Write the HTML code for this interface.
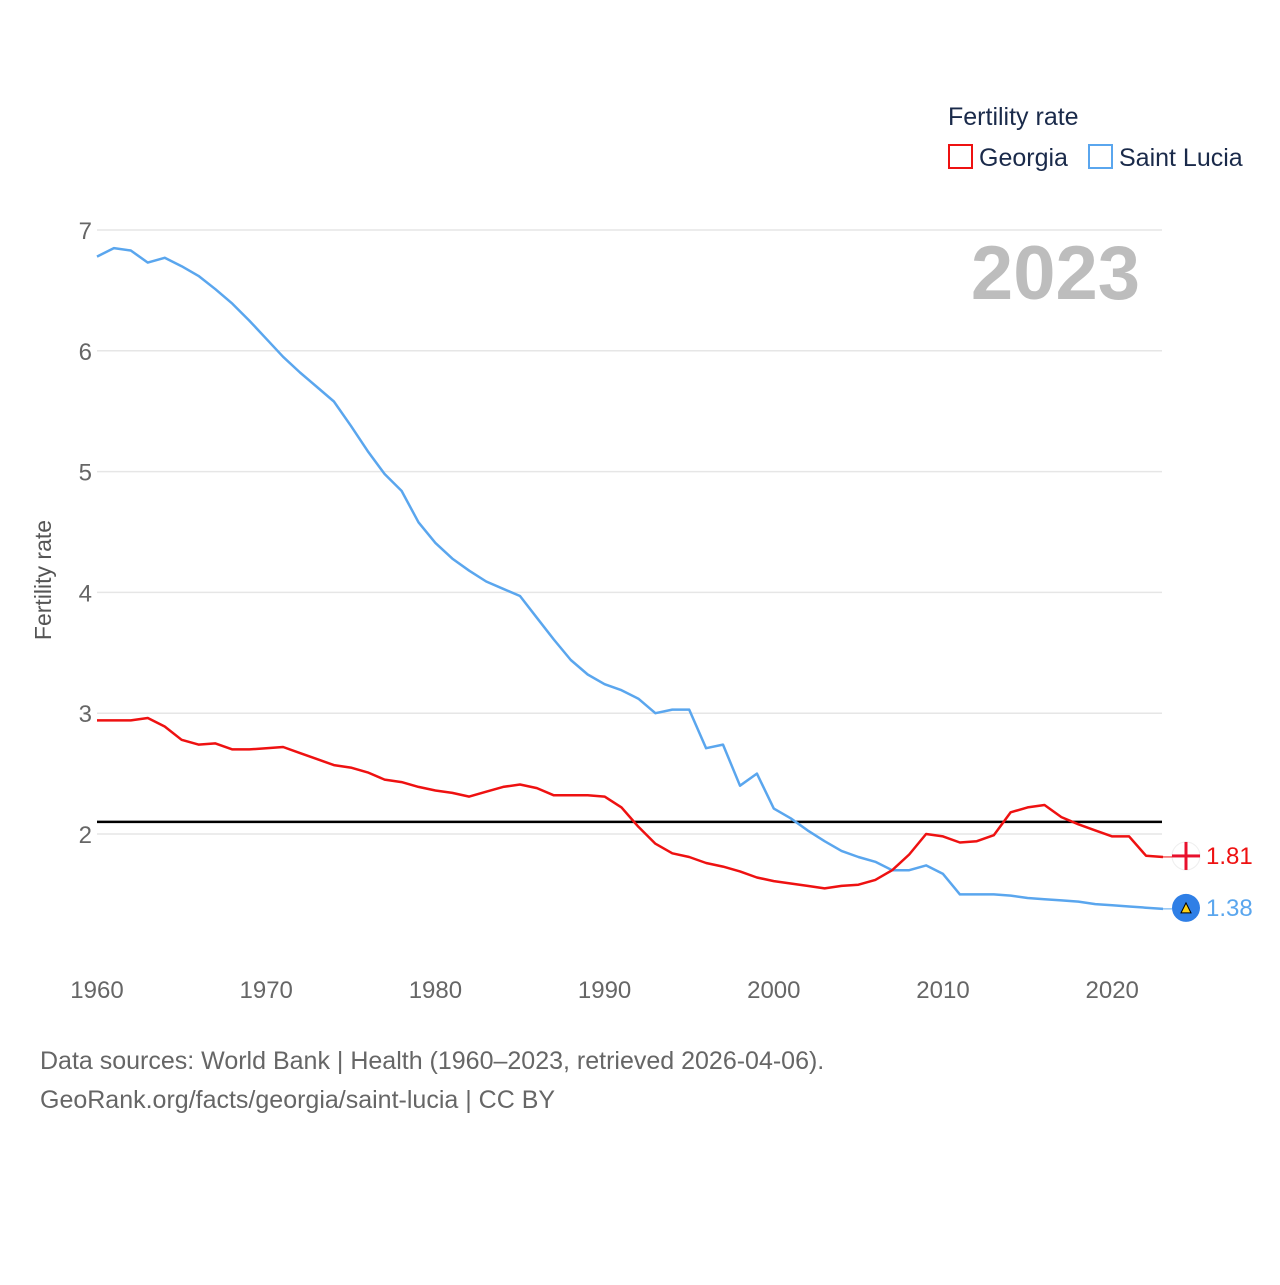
<!DOCTYPE html>
<html><head><meta charset="utf-8">
<style>
body{margin:0;background:#fff;font-family:"Liberation Sans",sans-serif;}
svg text{font-family:"Liberation Sans",sans-serif;}
</style></head>
<body>
<svg id="chart" width="1280" height="1280" viewBox="0 0 1280 1280">
  <text x="948" y="125" font-size="25" fill="#1a2a4a">Fertility rate</text>
  <g>
    <rect x="949" y="145" width="23" height="23" fill="none" stroke="#ee1111" stroke-width="2"/>
    <text x="979" y="166" font-size="25" fill="#1a2a4a">Georgia</text>
  </g>
  <g>
    <rect x="1089" y="145" width="23" height="23" fill="none" stroke="#5aa6ee" stroke-width="2"/>
    <text x="1119" y="166" font-size="25" fill="#1a2a4a">Saint Lucia</text>
  </g>
  <text x="1140" y="299" font-size="76" font-weight="bold" fill="#bdbdbd" text-anchor="end">2023</text>
  <text transform="translate(51,580) rotate(-90)" font-size="23" fill="#555" text-anchor="middle">Fertility rate</text>
  <g id="grid"></g>
  <g id="xticks"></g>
  <g id="lines"></g>
  <text x="40" y="1069" font-size="25" fill="#666">Data sources: World Bank | Health (1960–2023, retrieved 2026-04-06).</text>
  <text x="40" y="1108" font-size="25" fill="#666">GeoRank.org/facts/georgia/saint-lucia | CC BY</text>
</svg>
<script>
const years = [];
for (let y = 1960; y <= 2023; y++) years.push(y);
const georgia = [2.94,2.94,2.94,2.96,2.89,2.78,2.74,2.75,2.70,2.70,2.71,2.72,2.67,2.62,2.57,2.55,2.51,2.45,2.43,2.39,2.36,2.34,2.31,2.35,2.39,2.41,2.38,2.32,2.32,2.32,2.31,2.22,2.06,1.92,1.84,1.81,1.76,1.73,1.69,1.64,1.61,1.59,1.57,1.55,1.57,1.58,1.62,1.70,1.83,2.00,1.98,1.93,1.94,1.99,2.18,2.22,2.24,2.14,2.08,2.03,1.98,1.98,1.82,1.81];
const saintLucia = [6.78,6.85,6.83,6.73,6.77,6.70,6.62,6.51,6.39,6.25,6.10,5.95,5.82,5.70,5.58,5.38,5.17,4.98,4.84,4.58,4.41,4.28,4.18,4.09,4.03,3.97,3.79,3.61,3.44,3.32,3.24,3.19,3.12,3.00,3.03,3.03,2.71,2.74,2.40,2.50,2.21,2.13,2.03,1.94,1.86,1.81,1.77,1.70,1.70,1.74,1.67,1.50,1.50,1.50,1.49,1.47,1.46,1.45,1.44,1.42,1.41,1.40,1.39,1.38];
const yTicks = [2,3,4,5,6,7];
const xTicks = [1960,1970,1980,1990,2000,2010,2020];
const replacementRate = [2.1];

const NS = "http://www.w3.org/2000/svg";
const xS = v => 97 + (v - 1960) * 16.92;
const yS = v => 834 - (v - 2) * 120.8;
function mk(tag, attrs, parent, txt) {
  const e = document.createElementNS(NS, tag);
  for (const k in attrs) e.setAttribute(k, attrs[k]);
  if (txt !== undefined) e.textContent = txt;
  parent.appendChild(e);
  return e;
}
const grid = document.getElementById('grid');
yTicks.forEach(t => {
  const l = mk('line', {x1: 97, x2: 1162, y1: yS(t), y2: yS(t), stroke: '#e6e6e6', 'stroke-width': 1.5}, grid);
  
  
  const tx = mk('text', {x: 92, y: yS(t) + 9, 'font-size': 24, fill: '#666', 'text-anchor': 'end'}, grid, String(t));
  
  
});
const xt = document.getElementById('xticks');
xTicks.forEach(t => {
  const tx = mk('text', {x: xS(t), y: 998, 'font-size': 24, fill: '#666', 'text-anchor': 'middle'}, xt, String(t));
  
  
});
const lines = document.getElementById('lines');
const ref = mk('line', {x1: 97, x2: 1162, y1: yS(replacementRate[0]), y2: yS(replacementRate[0]), stroke: '#000', 'stroke-width': 2.5}, lines);


function series(vals, color, name) {
  const d = vals.map((v, i) => (i ? 'L' : 'M') + xS(years[i]).toFixed(1) + ' ' + yS(v).toFixed(1)).join(' ');
  const p = mk('path', {d: d, fill: 'none', stroke: color, 'stroke-width': 2.5, 'stroke-linejoin': 'round'}, lines);
  
  
  const last = vals[vals.length - 1];
  const ly = yS(last);
  const c = mk('circle', {cx: 1186, cy: ly - 1, r: 14, fill: name === 'georgia' ? '#fff' : '#2f7fe6', stroke: name === 'georgia' ? '#eee' : 'none'}, lines);
  
  
  if (name === 'georgia') {
    mk('rect', {x: 1184.5, y: ly - 15, width: 3, height: 28, fill: '#e8112d'}, lines);
    mk('rect', {x: 1172, y: ly - 2.5, width: 28, height: 3, fill: '#e8112d'}, lines);
  } else {
    mk('polygon', {points: `1181,${ly+4} 1186,${ly-6} 1191,${ly+4}`, fill: '#fcd116', stroke: '#000', 'stroke-width': 1}, lines);
  }
  mk('line', {x1: 1162, x2: 1172, y1: ly, y2: ly, stroke: color, 'stroke-width': 1}, lines);
  const lab = mk('text', {x: 1206, y: ly + 7, 'font-size': 24, fill: color}, lines, last.toFixed(2));
  
  
}
series(saintLucia, '#5aa6ee', 'saint-lucia');
series(georgia, '#ee1111', 'georgia');
</script>
</body></html>
